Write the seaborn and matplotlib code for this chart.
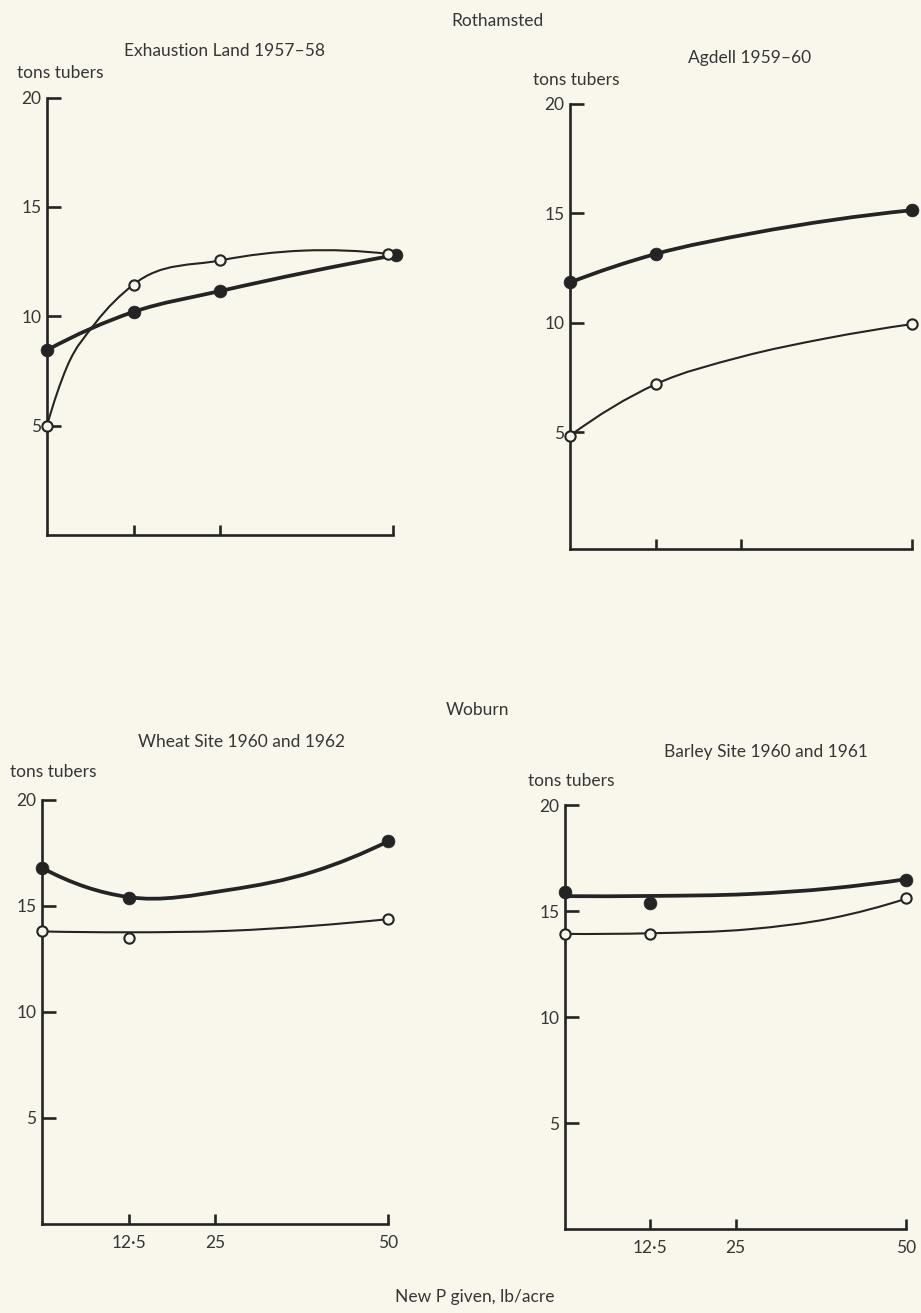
import numpy as np
import seaborn as sns
import matplotlib.pyplot as plt
from matplotlib.path import Path
from matplotlib.patches import PathPatch

# values: tons tubers per acre against new P given (lb/acre)
p_ticks = [12.5, 25, 50]
p_tick_labels = ["12·5", "25", "50"]
t_ticks = [5, 10, 15, 20]

# Rothamsted, Exhaustion Land 1957-58
exh_filled_p = [0, 12.5, 25, 50.4]
exh_filled_t = [8.45, 10.2, 11.15, 12.8]
exh_open_p = [0, 12.5, 25, 49.3]
exh_open_t = [5.0, 11.45, 12.55, 12.85]
exh_open_curve_p = [0, 2.9, 6.9, 12.5, 25, 37, 49.3]
exh_open_curve_t = [5.0, 7.7, 9.65, 11.45, 12.55, 13.0, 12.85]

# Rothamsted, Agdell 1959-60
agd_filled_p = [0, 12.5, 50]
agd_filled_t = [11.85, 13.15, 15.15]
agd_filled_curve_p = [0, 12.5, 26.7, 50]
agd_filled_curve_t = [11.85, 13.15, 14.1, 15.15]
agd_open_p = [0, 12.5, 50]
agd_open_t = [4.85, 7.2, 9.95]
agd_open_curve_p = [0, 12.5, 25, 37.5, 50]
agd_open_curve_t = [4.85, 7.2, 8.45, 9.3, 9.95]

# Woburn, Wheat Site 1960 and 1962
wht_filled_p = [0, 12.5, 50]
wht_filled_t = [16.8, 15.4, 18.05]
wht_filled_curve_p = [0, 6.3, 12.5, 27, 39.3, 50]
wht_filled_curve_t = [16.8, 15.9, 15.42, 15.76, 16.63, 18.05]
wht_open_p = [0, 12.5, 50]
wht_open_t = [13.8, 13.5, 14.38]
wht_open_curve_p = [0, 12.5, 27, 39.3, 50]
wht_open_curve_t = [13.8, 13.76, 13.83, 14.07, 14.38]

# Woburn, Barley Site 1960 and 1961
bar_filled_p = [0, 12.5, 50]
bar_filled_t = [15.9, 15.4, 16.45]
bar_filled_curve_p = [0, 12.5, 27, 39.1, 50]
bar_filled_curve_t = [15.7, 15.71, 15.8, 16.07, 16.5]
bar_open_p = [0, 12.5, 50]
bar_open_t = [13.92, 13.92, 15.6]
bar_open_curve_p = [0, 12.5, 27, 39.1, 50]
bar_open_curve_t = [13.92, 13.95, 14.14, 14.66, 15.58]

BG = "#f9f6ec"
INK = "#242424"
TXT = "#363636"
W, H = 921, 1313

sns.set_theme(style="ticks")
plt.rcParams["font.family"] = ["Lato", "DejaVu Sans"]
plt.rcParams["font.size"] = 12.5


def smooth_path(px, ty):
    # cubic Hermite through the knots, drawn as bezier segments
    px = np.asarray(px, float)
    ty = np.asarray(ty, float)
    h = np.diff(px)
    d = np.diff(ty) / h
    n = len(px)
    m = np.empty(n)
    if n == 2:
        m[:] = d[0]
    else:
        m[1:-1] = (h[1:] * d[:-1] + h[:-1] * d[1:]) / (h[:-1] + h[1:])
        m[0] = ((2 * h[0] + h[1]) * d[0] - h[0] * d[1]) / (h[0] + h[1])
        m[-1] = ((2 * h[-1] + h[-2]) * d[-1] - h[-1] * d[-2]) / (h[-1] + h[-2])
    verts = [(px[0], ty[0])]
    codes = [Path.MOVETO]
    for i in range(n - 1):
        verts += [(px[i] + h[i] / 3, ty[i] + m[i] * h[i] / 3),
                  (px[i + 1] - h[i] / 3, ty[i + 1] - m[i + 1] * h[i] / 3),
                  (px[i + 1], ty[i + 1])]
        codes += [Path.CURVE4] * 3
    return Path(verts, codes)


def draw_curve(ax, px, ty, lw):
    ax.add_patch(PathPatch(smooth_path(px, ty), fill=False, edgecolor=INK,
                           lw=lw, capstyle="round", joinstyle="round", zorder=3))


def panel(fig, left, right, top, bottom, ybottom, xlabels):
    ax = fig.add_axes([left / W, 1 - bottom / H, (right - left) / W, (bottom - top) / H])
    ax.set_facecolor("none")
    ax.set_xlim(0, 50)
    ax.set_ylim(ybottom, 20)
    sns.despine(ax=ax)
    for s in ("left", "bottom"):
        ax.spines[s].set_color(INK)
        ax.spines[s].set_linewidth(1.9)
    ax.set_xticks(p_ticks)
    ax.set_yticks(t_ticks)
    ax.set_yticklabels([str(t) for t in t_ticks])
    ax.tick_params(axis="y", direction="in", length=10, width=1.9, color=INK,
                   pad=4, labelsize=12.5, labelcolor=TXT)
    ax.tick_params(axis="x", direction="in", length=7.5, width=1.9, color=INK,
                   pad=8, labelsize=12.5, labelcolor=TXT, labelbottom=xlabels)
    if xlabels:
        ax.set_xticklabels(p_tick_labels)
    ax.set_xlabel("")
    ax.set_ylabel("")
    return ax


def markers(ax, fp, ft, op, ot):
    sns.scatterplot(x=fp, y=ft, ax=ax, s=85, color=INK, edgecolor=INK,
                    linewidth=0.5, zorder=5, clip_on=False)
    sns.scatterplot(x=op, y=ot, ax=ax, s=55, color=BG, edgecolor=INK,
                    linewidth=1.5, zorder=6, clip_on=False)


fig = plt.figure(figsize=(W / 100, H / 100), dpi=100, facecolor=BG)

# Exhaustion Land
ax1 = panel(fig, 47, 393, 97.5, 535, 0.0, False)
draw_curve(ax1, exh_filled_p, exh_filled_t, 2.7)
draw_curve(ax1, exh_open_curve_p, exh_open_curve_t, 1.5)
markers(ax1, exh_filled_p, exh_filled_t, exh_open_p, exh_open_t)

# Agdell
ax2 = panel(fig, 570, 912, 104, 549, -0.32, False)
draw_curve(ax2, agd_filled_curve_p, agd_filled_curve_t, 2.7)
draw_curve(ax2, agd_open_curve_p, agd_open_curve_t, 1.5)
markers(ax2, agd_filled_p, agd_filled_t, agd_open_p, agd_open_t)

# Wheat Site
ax3 = panel(fig, 42, 388, 800, 1224, 0.0, True)
draw_curve(ax3, wht_filled_curve_p, wht_filled_curve_t, 2.7)
draw_curve(ax3, wht_open_curve_p, wht_open_curve_t, 1.5)
markers(ax3, wht_filled_p, wht_filled_t, wht_open_p, wht_open_t)

# Barley Site
ax4 = panel(fig, 565, 906, 805, 1229, 0.0, True)
draw_curve(ax4, bar_filled_curve_p, bar_filled_curve_t, 2.7)
draw_curve(ax4, bar_open_curve_p, bar_open_curve_t, 1.5)
markers(ax4, bar_filled_p, bar_filled_t, bar_open_p, bar_open_t)


def label(x, y, s, ha="center"):
    fig.text(x / W, 1 - y / H, s, ha=ha, va="center", fontsize=12.5, color=TXT)


label(497, 21, "Rothamsted")
label(224, 51, "Exhaustion Land 1957–58")
label(750, 58, "Agdell 1959–60")
label(17, 73, "tons tubers", ha="left")
label(533, 80, "tons tubers", ha="left")

label(477, 710, "Woburn")
label(241, 742, "Wheat Site 1960 and 1962")
label(766, 752, "Barley Site 1960 and 1961")
label(10, 772, "tons tubers", ha="left")
label(528, 781, "tons tubers", ha="left")

label(475, 1297, "New P given, lb/acre")

fig.savefig("out.png", dpi=100, facecolor=BG)
